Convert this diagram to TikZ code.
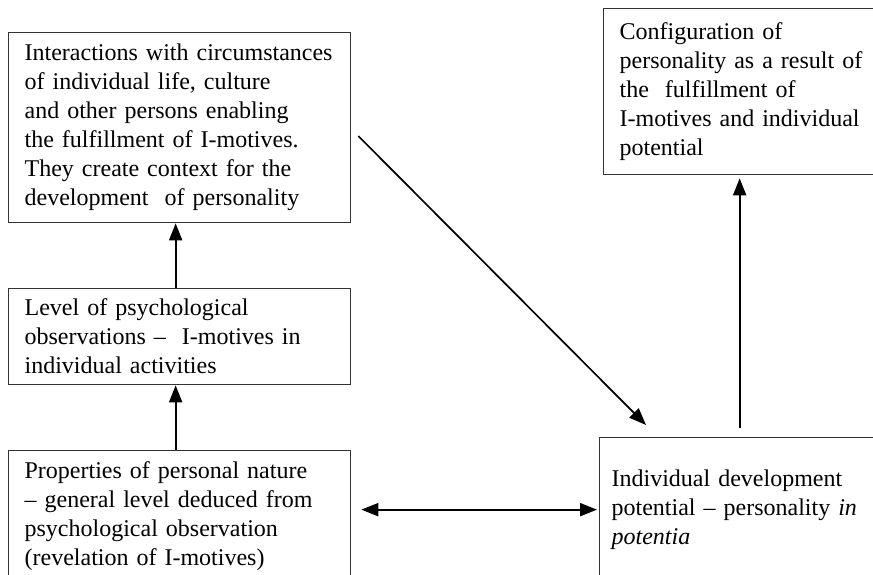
\documentclass[tikz,border=0pt]{standalone}
\usepackage{fontspec}
\setmainfont{Liberation Serif}
\usetikzlibrary{arrows.meta,calc}
\begin{document}
\begin{tikzpicture}[x=1pt,y=-1pt,
  >={Triangle[length=17pt,width=13pt]},
  box/.style={draw=black!80, line width=1.3pt, anchor=north west, align=left,
    inner ysep=0pt, font=\fontsize{24}{29}\selectfont},
  conn/.style={line width=1.9pt, ->},
  biconn/.style={line width=1.9pt, <->},
]
\useasboundingbox (0,0) rectangle (873,574);
\clip (0,0) rectangle (873,574);

\node[box, inner xsep=16pt, text width=310pt, minimum height=190pt] (A) at (8,32)
  {Interactions with circumstances\\of individual life, culture\\and other persons enabling\\the fulfillment of I-motives.\\They create context for the\\development\ \ of personality};
\node[box, inner xsep=16pt, text width=310pt, minimum height=96pt] (L) at (8,288)
  {Level of psychological\\observations –\ \ I-motives in\\individual activities};
\node[box, inner xsep=16pt, text width=310pt, minimum height=130pt] (P) at (8,450)
  {Properties of personal nature\\– general level deduced from\\psychological observation\\(revelation of I-motives)};
\node[box, inner xsep=16pt, text width=265pt, minimum height=166pt] (C) at (603,8)
  {Configuration of\\personality as a result of\\the\ \ fulfillment of\\I-motives and individual\\potential};
\node[box, inner xsep=12pt, text width=256pt, minimum height=144pt] (I) at (599,437)
  {Individual development\\potential – personality \textit{in}\\\textit{potentia}};

\draw[conn] ([xshift=-4pt]P.north) -- ([xshift=-4pt]L.south);
\draw[conn] ([xshift=-4pt]L.north) -- ([xshift=-4pt]A.south);
\draw[conn, line width=1.7pt] ($(A.north east)+(7,104)$) -- ($(I.north west)+(47,-12)$);
\draw[biconn] ($(P.east |- I.west)+(10,0)$) -- ($(I.west)+(-2,0)$);
\draw[conn] ($(I.north)+(0,-9)$) -- ($(I.north |- C.south)+(0,3)$);
\end{tikzpicture}
\end{document}
